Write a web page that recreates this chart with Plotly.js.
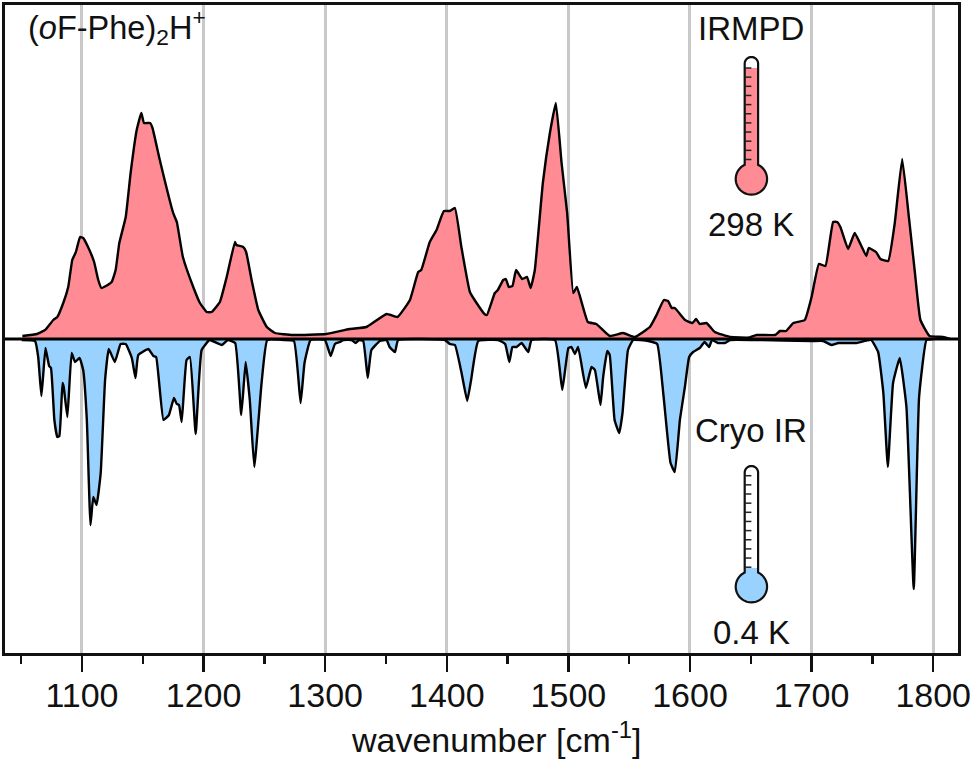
<!DOCTYPE html>
<html>
<head>
<meta charset="utf-8">
<script src="https://cdn.plot.ly/plotly-3.0.1.min.js"></script>
<style>body { margin: 0; background: #fff; }</style>
</head>
<body>
<div id="plot" style="width:974px;height:763px"></div>
<script>
const irmpdX = [1051,1063,1069.6,1076.4,1079.7,1084.6,1088.7,1092,1095,1098.4,1101,1105,1110,1113.4,1116,1119.7,1124.4,1127.7,1130.7,1136,1140,1145,1148.8,1151,1156,1158,1164,1175,1178,1183,1191.5,1197,1202.5,1206.6,1213.4,1219,1225.8,1227,1232.6,1235,1239.5,1245,1252,1258.7,1273.5,1301,
  1320,1334,1350.5,1359.5,1369.7,1376.5,1379,1386,1391.6,1397.6,1402.6,1406.7,1412,1419,1424.5,1431,1433,1439.5,1442,1446.4,1448.6,1451,1454,1457,1462,1466,1469,1472.4,1479,1484.8,1489.7,1494.4,1499,1504,1507,1516,1523,1534,1545,1554.6,1567,
  1572.5,1578.5,1582,1585,1587.5,1596,1602,1605,1608,1613.6,1620.4,1633,1649,1654.7,1670,1674,1679,1685,1694.4,1700,1706,1711.4,1717.7,1721,1723.7,1730,1735.5,1745,1747,1753,1756.6,1763,1768.4,1774.5,1780,1785,1789.5,1797,1808,1814];
const irmpdY = [3,5,9,19,22,36,52,79,87,102,101,92,77,59,51,53,57,69,96,122,166,209,226,216,216,211,179,126,117,82,52,36,27,27,37,62,97,94,92,87,59,29,12,6,4,5,
  10,12,25,22,39,67,69,97,109,128,128,131,92,47,36,25,24,46,49,59,60,52,53,69,60,62,51,69,156,206,236,176,126,46,52,17,15,3,6,2,12,
  24,39,38,31,31,19,16,20,15,16,7,2,1.5,4,4,8,8,16,19,42,75,73,117,117,112,90,106,83,91,87,80,78,116,180,122,66,19,3,2,0];

const cryoX = [1050.4,1061.4,1064,1066.6,1068,1070,1073,1074.5,1077.3,1079.7,1081.4,1084,1085,1088,1091.5,1094.3,1098,1101,1104,1107,1109.3,1112,1115.4,1119,1122,1127,1131.8,1136,1141,1144,1146.3,1154.6,1158.7,1161,1167,1171.5,1175.6,1178,1179.8,1182,1186,1188.8,1193.5,1198.4,1205,1215,1220,1226,1231,1234.6,1238,1241.7,1247.7,1252.4,1265.5,1274.3,1279.8,1283,1288,1299.8,
  1304.5,1308,1312,1315,1321.7,1325,1328,1331.3,1335,1338,1345,1350.5,1353,1357.4,1360,1398.5,1402.6,1406.7,1412,1416.8,1420,1425.9,1442.3,1448,1451.4,1454,1457.4,1461.5,1467,1469.7,1489,1495,1500,1502.6,1505.3,1508,1514.4,1519,1521.8,1526.4,1528.6,1532,1534,1538,1541.8,1544.5,1549,1553.3,1565.6,
  1573,1578,1584,1587.5,1591.7,1595.8,1599.3,1602.6,1608,1612,1615.8,1618,1623,1628.7,1632.8,1654,1700,1709.5,1716.4,1722,1737,1749,1754.7,1759,1762.7,1767,1772.5,1778,1784,1788.4,1794.5,1800];
const cryoY = [-1,-2,-18,-57,-38,-9,-27,-29,-81,-98,-97,-44,-48,-78,-14,-23,-19,-31,-81,-186,-158,-166,-134,-41,-10,-23,-5,-5,-19,-39,-16,-10,-17,-18,-81,-76,-59,-65,-66,-83,-21,-18,-95,-11,-1,-6,-1,-4,-76,-23,-61,-128,-44,-1,-1,-2,-64,-24,-1,-1,
  -17,-5,-3,-1,-1,-4,-1,-2,-39,-11,-2,-1,-8,-13,-1,-1,-5,-6,-33,-62,-41,-2,-1,-5,-23,-8,-8,-4,-13,-1,-1,-51,-9,-8,-15,-8,-49,-28,-31,-66,-38,-12,-16,-81,-94,-74,-11,-1,-2,
  -5,-54,-124,-133,-81,-48,-18,-13,-9,-3,-8,-1,-4,-4,-1,-1,-2,-2,-6,-4,-4,-1,-13,-54,-128,-44,-19,-68,-250,-58,-1,0];

const majorTicks = [1100, 1200, 1300, 1400, 1500, 1600, 1700, 1800];

const pink = "#ff8b94";
const blue = "#99d2ff";
const FONT = "Liberation Sans, Arial, sans-serif";

// one y unit is one pixel, x needs scaling
const pxPerX = 1.2164;
const thermoX = 1650.5;

function outlinePath(bulbY, topY, flatTop) {
  const r = 15.7, w = 6.7;
  const pts = [];
  const joint = Math.asin(w / r);
  const jointY = bulbY + r * Math.cos(joint);
  pts.push([-w, jointY]);
  if (flatTop !== undefined) {
    pts.push([-w, flatTop], [w, flatTop]);
  } else {
    pts.push([-w, topY - w]);
    for (let a = 10; a < 180; a += 10) {
      const t = a * Math.PI / 180;
      pts.push([-w * Math.cos(t), topY - w + w * Math.sin(t)]);
    }
    pts.push([w, topY - w]);
  }
  pts.push([w, jointY]);
  for (let a = joint + 0.15; a < 2 * Math.PI - joint; a += 0.15) {
    pts.push([r * Math.sin(a), bulbY + r * Math.cos(a)]);
  }
  return "M" + pts.map(p => (thermoX + p[0] / pxPerX) + "," + p[1]).join("L") + "Z";
}

function thermometer(bulbY, topY, fillTop, firstTick, color) {
  const list = [
    { type: "path", path: outlinePath(bulbY, topY, fillTop), fillcolor: color, line: { width: 0 } },
    { type: "path", path: outlinePath(bulbY, topY), fillcolor: "rgba(0,0,0,0)", line: { color: "#111", width: 2.2 } }
  ];
  for (let i = 0; i < 11; i++) {
    const y = firstTick - i * 9.15;
    list.push({
      type: "line",
      x0: thermoX - 6.7 / pxPerX, x1: thermoX,
      y0: y, y1: y,
      line: { color: "#222", width: 1.5 }
    });
  }
  return list;
}

const shapes = [
  { type: "line", xref: "paper", x0: 0, x1: 1, y0: 0, y1: 0, line: { color: "#000", width: 3 } },
  ...thermometer(160, 282, 271, 271, pink),
  ...thermometer(-247.7, -127, -229, -136.7, blue)
];

function label(text, x, y, size) {
  return {
    text: text, x: x, y: y, xref: "x", yref: "y", showarrow: false,
    xanchor: "center", yanchor: "middle",
    font: { family: FONT, size: size || 33, color: "#111" }
  };
}

const annotations = [
  label("(<i>o</i>F-Phe)<sub>2</sub>H<sup>+</sup>", 1128.4, 312, 32.5),
  label("IRMPD", thermoX, 311),
  label("298 K", thermoX, 115),
  label("Cryo IR", thermoX, -91),
  label("0.4 K", thermoX, -293),
  // sits right of the frame centre, so not an axis title; y in paper because it is below the range
  { ...label("wavenumber [cm<sup>-1</sup>]", 1441, -0.13, 34), yref: "paper" }
];

const lineStyle = { color: "#000", width: 2.4, shape: "spline", smoothing: 0.35 };

const traces = [
  { x: irmpdX, y: irmpdY, type: "scatter", mode: "lines", fill: "tozeroy", fillcolor: pink, line: lineStyle, name: "IRMPD" },
  { x: cryoX, y: cryoY, type: "scatter", mode: "lines", fill: "tozeroy", fillcolor: blue, line: lineStyle, name: "Cryo IR" }
];

const layout = {
  width: 974,
  height: 763,
  margin: { l: 5, r: 16, t: 5, b: 110 },
  paper_bgcolor: "#fff",
  plot_bgcolor: "#fff",
  showlegend: false,
  hovermode: false,
  font: { family: FONT, size: 33, color: "#111" },
  xaxis: {
    range: [1036.7, 1820.4],
    tickvals: majorTicks,
    ticktext: majorTicks.map(String),
    ticks: "outside",
    ticklen: 16,
    tickwidth: 2.5,
    tickcolor: "#111",
    tickfont: { family: FONT, size: 34, color: "#111" },
    ticklabelstandoff: -6,
    showgrid: true,
    gridcolor: "#c9c9c9",
    gridwidth: 3,
    minor: { tickvals: [1050, 1150, 1250, 1350, 1450, 1550, 1650, 1750], ticks: "outside", ticklen: 8, tickwidth: 2.5, tickcolor: "#111", showgrid: false },
    showline: true,
    mirror: true,
    linecolor: "#111",
    linewidth: 3,
    zeroline: false
  },
  yaxis: {
    range: [-314, 334],
    showticklabels: false,
    ticks: "",
    showgrid: false,
    zeroline: false,
    showline: true,
    mirror: true,
    linecolor: "#111",
    linewidth: 3
  },
  shapes: shapes,
  annotations: annotations
};

Plotly.newPlot("plot", traces, layout, { displayModeBar: false, staticPlot: true });
</script>
</body>
</html>
